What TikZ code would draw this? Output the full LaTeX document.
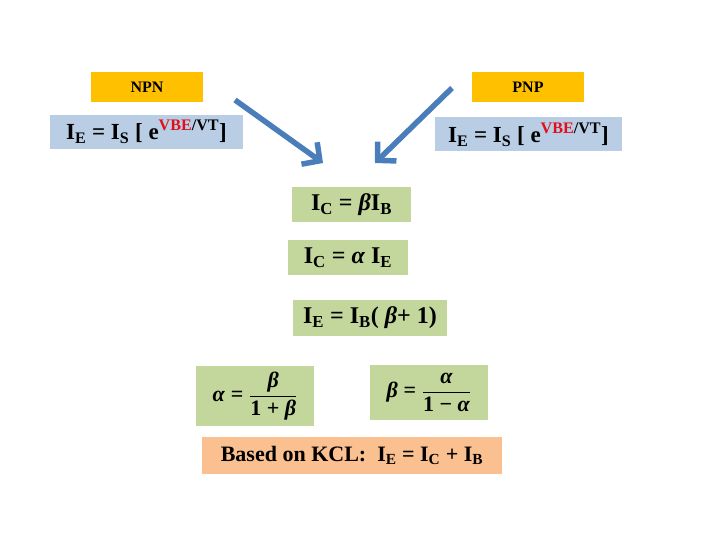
\documentclass[tikz,border=0pt]{standalone}
\usepackage{amsmath}
\usepackage{fontspec}
\setmainfont{Liberation Serif}
\usepackage{xcolor}
\usetikzlibrary{arrows.meta}

\definecolor{hdrorange}{HTML}{FFC000}
\definecolor{eqblue}{HTML}{B9CDE5}
\definecolor{eqgreen}{HTML}{C3D69B}
\definecolor{kclpeach}{HTML}{FAC090}
\definecolor{arrblue}{HTML}{4A7EBB}
\definecolor{vred}{HTML}{E0101A}

\newcommand{\sub}[1]{\textsubscript{#1}}
\newcommand{\bgr}[1]{\textit{#1}}
\newcommand{\tx}[1]{\text{#1}}

\begin{document}
\begin{tikzpicture}[
  x=1pt, y=-1pt,
  font=\bfseries,
  box/.style    ={inner sep=0pt, align=center},
  hdr/.style    ={box, fill=hdrorange, minimum width=112pt, minimum height=30pt, font=\bfseries\fontsize{16}{18}\selectfont},
  diode/.style  ={box, fill=eqblue, minimum height=34pt, font=\bfseries\fontsize{23}{26}\selectfont},
  rel/.style    ={box, fill=eqgreen, minimum height=35pt, font=\bfseries\fontsize{24}{27}\selectfont},
  frac/.style   ={box, fill=eqgreen, minimum width=118pt, font=\bfseries\fontsize{22}{26}\selectfont},
  kcl/.style    ={box, fill=kclpeach, minimum width=300pt, minimum height=37pt, font=\bfseries\fontsize{22}{25}\selectfont},
  ar/.style     ={-{Straight Barb[length=13pt, width=27pt]}, line width=5.5pt, arrblue}
]
\useasboundingbox (0,0) rectangle (720,540);

\node[hdr] (npn) at (147,87) {NPN};
\node[hdr] (pnp) at (528,87) {PNP};

\node[diode, minimum width=193pt] (npneq) at (146.5,132)
  {I\sub{E} = I\sub{S} [ e\textsuperscript{\textcolor{vred}{VBE}/VT}]};
\node[diode, minimum width=187pt] (pnpeq) at (528.5,134.5)
  {I\sub{E} = I\sub{S} [ e\textsuperscript{\textcolor{vred}{VBE}/VT}]};

\node[rel, minimum width=119pt] (icb) at (351.5,204.5) {I\sub{C} = \bgr{β}I\sub{B}};
\node[rel, minimum width=120pt] (ica) at (348,257.5) {I\sub{C} = \bgr{α} I\sub{E}};
\node[rel, minimum width=154pt, minimum height=36pt] (ieb) at (370,318) {I\sub{E} = I\sub{B}( \bgr{β}+ 1)};

\node[frac, minimum height=60pt] (alpha) at (255,396)
  {$\tx{\bgr{α}}\;\tx{=}\;\dfrac{\tx{\bgr{β}}}{\tx{1 + \bgr{β}}}$};
\node[frac, minimum height=55pt] (beta) at (429,392.5)
  {$\tx{\bgr{β}}\;\tx{=}\;\dfrac{\tx{\bgr{α}}}{\tx{1 − \bgr{α}}}$};

\node[kcl] (kcl) at (352,455.5) {Based on KCL:~ I\sub{E} = I\sub{C} + I\sub{B}};

\coordinate (lstart) at (235,100);
\coordinate (lend)   at (323,163);
\coordinate (rstart) at (452,88);
\coordinate (rend)   at (375,163);

\draw[ar] (lstart) -- (lend);
\draw[ar] (rstart) -- (rend);

\end{tikzpicture}
\end{document}
